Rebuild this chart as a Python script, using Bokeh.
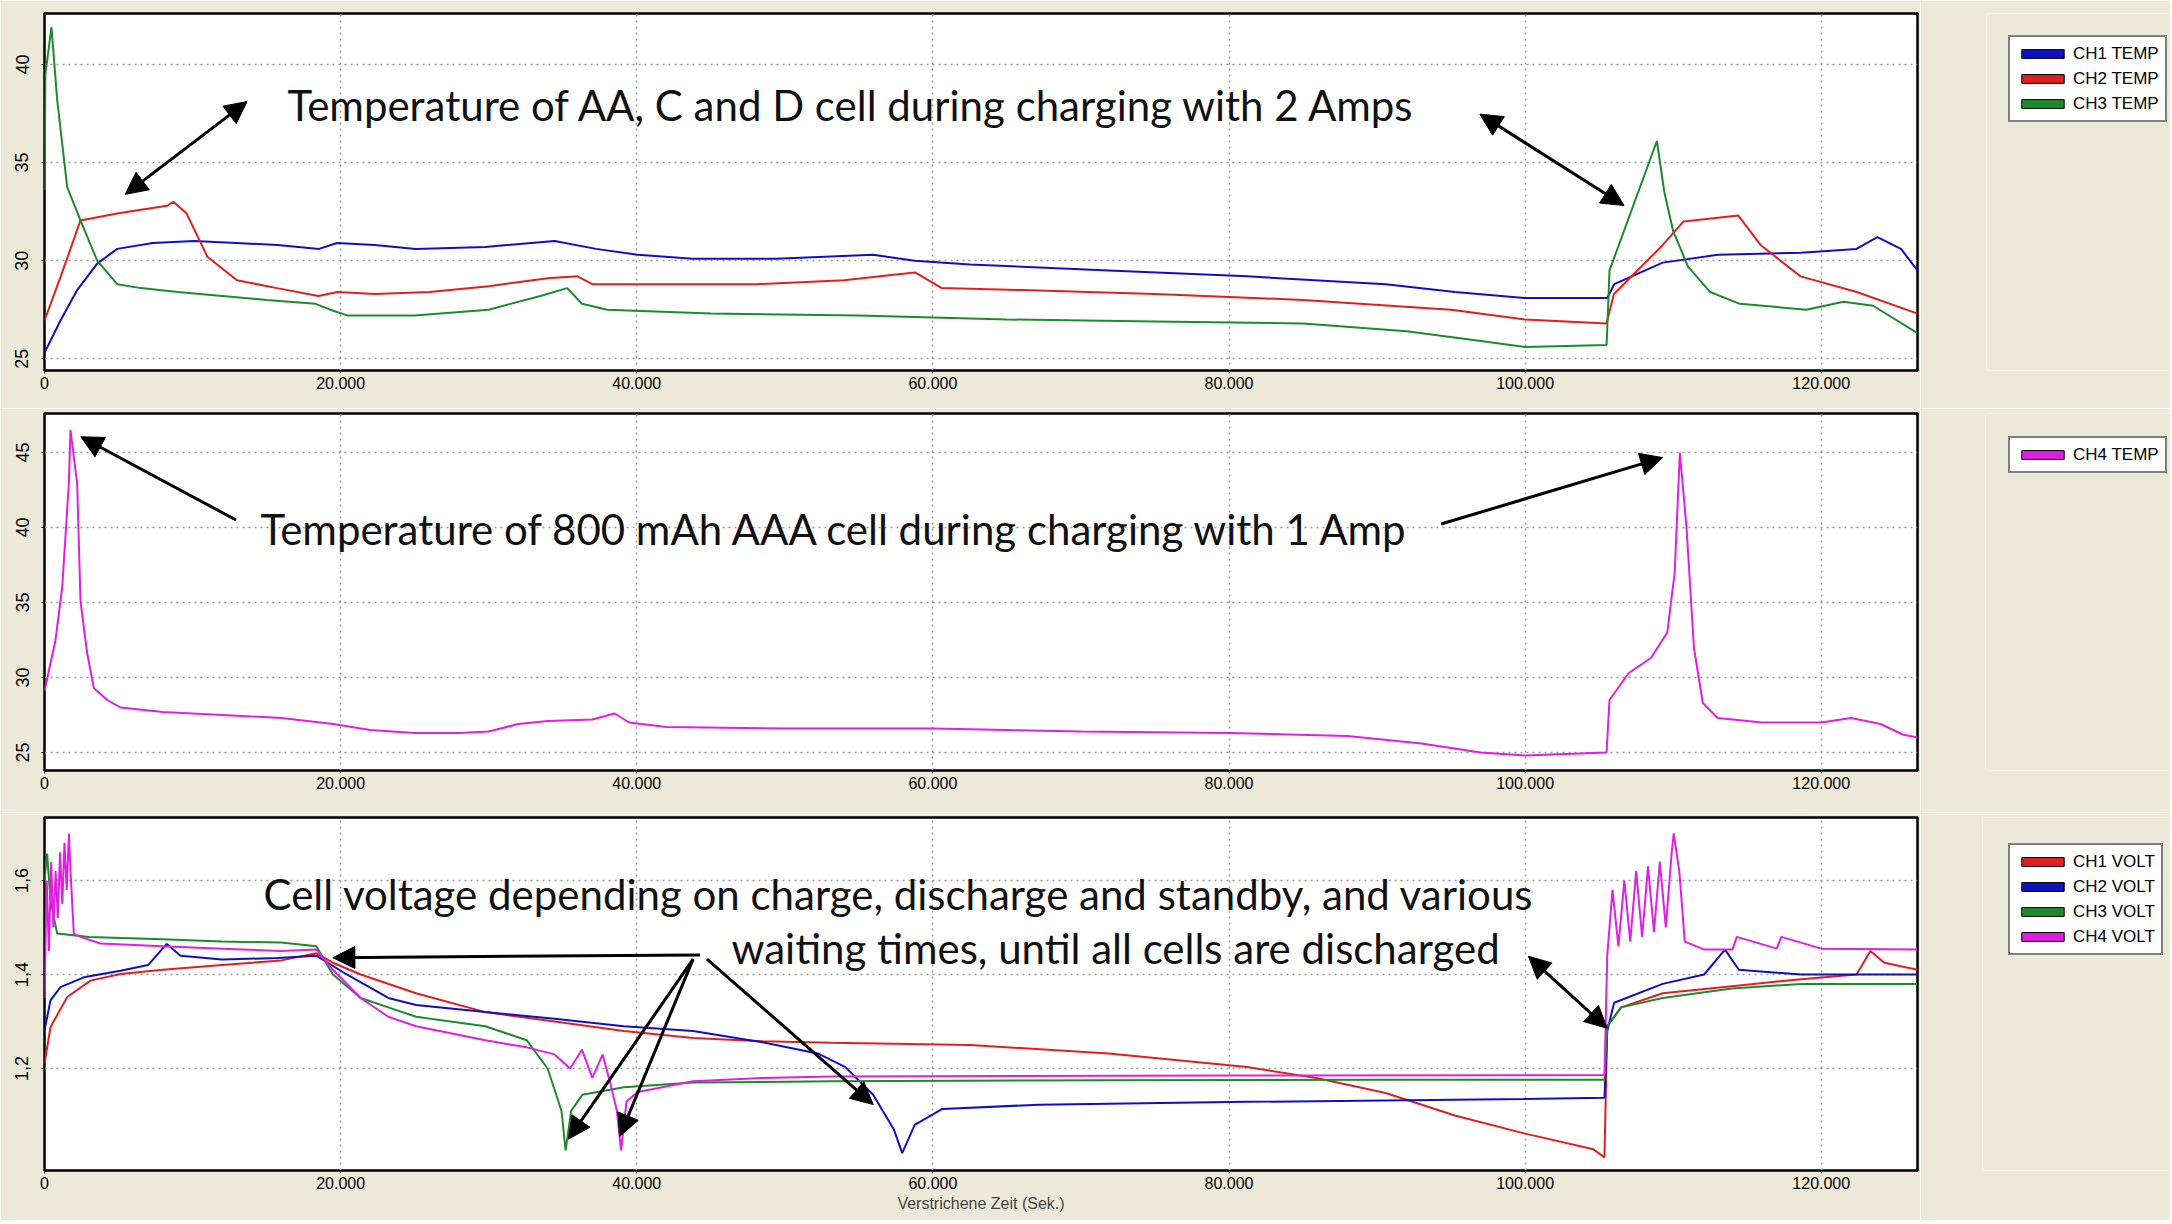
from bokeh.plotting import figure
from bokeh.layouts import column, row
from bokeh.models import Legend, LegendItem, Arrow, NormalHead, Label, FixedTicker, Range1d
from bokeh.embed import file_html
from bokeh.resources import INLINE

# ---------------- data ----------------
X_MAX = 126500
X_TICKS = [0, 20000, 40000, 60000, 80000, 100000, 120000]
X_LABELS = ["0", "20.000", "40.000", "60.000", "80.000", "100.000", "120.000"]

T1_TICKS = [25, 30, 35, 40]
T1_LABELS = ["25", "30", "35", "40"]
T2_TICKS = [25, 30, 35, 40, 45]
T2_LABELS = ["25", "30", "35", "40", "45"]
V_TICKS = [1.2, 1.4, 1.6]
V_LABELS = ["1,2", "1,4", "1,6"]

ch1_temp_x = [0, 1080, 2206, 3559, 4909, 7320, 10120, 12930, 15740, 18540, 19760, 22290, 25090, 29770, 34450,
              37250, 40060, 43800, 49410, 55960, 58770, 62510, 71870, 81220, 90580, 95260, 99940, 105550, 106020,
              109290, 113030, 118640, 122380, 123790, 125380, 126500]
ch1_temp_y = [25.3, 26.95, 28.5, 29.85, 30.6, 30.9, 31.0, 30.9, 30.8, 30.6, 30.9, 30.8, 30.6, 30.7, 31.0,
              30.6, 30.3, 30.1, 30.1, 30.3, 30.0, 29.8, 29.5, 29.2, 28.8, 28.4, 28.1, 28.1, 28.8,
              29.9, 30.3, 30.4, 30.6, 31.2, 30.6, 29.5]

ch2_temp_x = [0, 1080, 2431, 4909, 6500, 8300, 8700, 9600, 11000, 13000, 15700, 18500, 19800, 22300, 26000,
              30000, 34000, 36000, 37000, 40000, 48000, 54000, 57500, 58800, 60600, 66000, 75000, 85000, 95000,
              100000, 105500, 106000, 109300, 110700, 114400, 115900, 118600, 122400, 126500]
ch2_temp_y = [26.95, 29.16, 32.05, 32.4, 32.6, 32.8, 33.0, 32.4, 30.2, 29.0, 28.6, 28.2, 28.4, 28.3, 28.4,
              28.7, 29.1, 29.2, 28.8, 28.8, 28.8, 29.0, 29.3, 29.4, 28.6, 28.5, 28.3, 28.0, 27.5,
              27.0, 26.8, 28.3, 30.8, 32.0, 32.3, 30.8, 29.2, 28.4, 27.3]

ch3_temp_x = [0, 60, 473, 857, 1533, 2431, 3559, 4909, 6500, 9000, 12000, 15000, 18300, 19300, 20500,
              25000, 30000, 33500, 35300, 36300, 38000, 45000, 55000, 65000, 75000, 85000, 92000, 97000, 100000,
              105500, 105700, 108900, 109400, 110000, 111000, 112500, 114500, 119000, 121500, 123500, 126500]
ch3_temp_y = [33.6, 39.5, 41.9, 38.2, 33.75, 32.05, 30.0, 28.8, 28.6, 28.4, 28.2, 28.0, 27.8, 27.5, 27.2,
              27.2, 27.5, 28.2, 28.6, 27.8, 27.5, 27.3, 27.2, 27.0, 26.9, 26.8, 26.4, 25.9, 25.6,
              25.7, 29.5, 36.1, 33.5, 31.5, 29.7, 28.4, 27.8, 27.5, 27.9, 27.7, 26.3]

ch4_temp_x = [0, 743, 1195, 1641, 1756, 2208, 2431, 2884, 3330, 4235, 5133, 8000, 12000, 16000, 19500,
              22000, 25000, 28000, 30000, 32000, 34000, 37000, 38500, 39500, 42000, 50000, 60000, 70000, 80000,
              88000, 93000, 97000, 100000, 105500, 105700, 107000, 108500, 109600, 110100, 110450, 110900,
              111400, 112000, 113000, 116000, 120000, 122000, 124000, 125500, 126500]
ch4_temp_y = [29.1, 32.5, 36.0, 42.9, 46.5, 42.9, 35.1, 31.6, 29.3, 28.5, 28.0, 27.7, 27.5, 27.3, 26.9,
              26.5, 26.3, 26.3, 26.4, 26.9, 27.1, 27.2, 27.6, 27.0, 26.7, 26.6, 26.6, 26.4, 26.3,
              26.1, 25.6, 25.0, 24.8, 25.0, 28.5, 30.3, 31.3, 33.0, 37.0, 45.0, 40.0,
              32.0, 28.3, 27.3, 27.0, 27.0, 27.3, 26.9, 26.2, 26.0]

ch1_volt_x = [0, 405, 1533, 3107, 5133, 8000, 12000, 16000, 18357, 19480, 21351, 25093, 29770, 34448, 39126,
              43803, 48480, 53158, 62513, 71868, 81223, 85900, 90578, 95255, 99933, 104611, 105359, 105546,
              106484, 109288, 113966, 118643, 122385, 123320, 124256, 126500]
ch1_volt_y = [1.210, 1.288, 1.352, 1.387, 1.401, 1.41, 1.42, 1.43, 1.445, 1.425, 1.40, 1.36, 1.32, 1.30, 1.28,
              1.265, 1.258, 1.255, 1.25, 1.232, 1.203, 1.18, 1.148, 1.10, 1.062, 1.028, 1.011, 1.29,
              1.33, 1.36, 1.375, 1.39, 1.40, 1.45, 1.425, 1.41]

ch2_volt_x = [0, 405, 1080, 2655, 5133, 7000, 8254, 9190, 12000, 15738, 18357, 20416, 23222, 25093, 29770,
              34448, 39126, 43803, 48480, 52222, 54094, 55965, 57368, 57929, 58771, 60642, 67190, 81223, 99933,
              105359, 105546, 106014, 109288, 112093, 113496, 114434, 118643, 126500]
ch2_volt_y = [1.281, 1.345, 1.373, 1.394, 1.408, 1.42, 1.465, 1.44, 1.432, 1.435, 1.44, 1.40, 1.35, 1.335, 1.32,
              1.306, 1.29, 1.28, 1.256, 1.232, 1.203, 1.144, 1.07, 1.02, 1.08, 1.114, 1.123, 1.129, 1.135,
              1.138, 1.28, 1.34, 1.38, 1.40, 1.453, 1.41, 1.40, 1.40]

ch3_volt_x = [0, 180, 405, 857, 3000, 8000, 12000, 16000, 18357, 19480, 21351, 23222, 25093, 29770, 32577,
              33980, 34916, 35196, 35570, 36319, 39126, 43803, 53158, 71868, 90578, 105359, 105546, 106484,
              109288, 113966, 118643, 126500]
ch3_volt_y = [1.60, 1.657, 1.557, 1.487, 1.48, 1.475, 1.47, 1.468, 1.46, 1.40, 1.35, 1.33, 1.31, 1.29, 1.26,
              1.20, 1.11, 1.026, 1.11, 1.144, 1.16, 1.17, 1.173, 1.175, 1.176, 1.176, 1.29, 1.33,
              1.35, 1.37, 1.38, 1.38]

ch4_volt_x = [0, 150, 300, 450, 600, 750, 900, 1050, 1200, 1350, 1500, 1650, 1756, 1870, 1981,
              2431, 3782, 8000, 12000, 16000, 18357, 19480, 21351, 23222, 25093, 29770, 32577, 34448, 35500,
              36300, 37000, 37700, 38200, 38658, 38938, 39313, 40061, 43803, 48480, 53158, 80000, 105359,
              105546, 105900, 106300, 106700, 107100, 107500, 107900, 108300, 108700, 109100, 109500, 109900,
              110036, 110410, 110784, 112093, 114000, 114300, 117000, 117300, 120000, 126500]
ch4_volt_y = [1.35, 1.60, 1.45, 1.64, 1.50, 1.62, 1.52, 1.66, 1.55, 1.68, 1.58, 1.70, 1.62, 1.551, 1.487,
              1.48, 1.466, 1.46, 1.455, 1.45, 1.453, 1.41, 1.35, 1.31, 1.29, 1.26, 1.245, 1.23, 1.20,
              1.24, 1.18, 1.23, 1.17, 1.11, 1.026, 1.13, 1.15, 1.173, 1.18, 1.183, 1.185, 1.186,
              1.44, 1.58, 1.46, 1.60, 1.47, 1.62, 1.48, 1.63, 1.49, 1.64, 1.50, 1.66,
              1.70, 1.62, 1.47, 1.453, 1.453, 1.48, 1.455, 1.48, 1.455, 1.453]

# ---------------- style ----------------
BG = "#ECE9D8"
BLUE = "#1010C0"
RED = "#E02020"
GREEN = "#1E8A2E"
MAGENTA = "#E020E0"
TXT_FONT = "Lato"
TXT_SIZE = "42px"
TICK_FONT = "Liberation Sans"
FRAME_W = 1873
LEG_W = 250
LEG_X = 88  # legend box left edge, counted from the legend strip's left side


def make_fig(y_rng, frame_h, top, bottom, y_ticks, y_labels):
    p = figure(frame_width=FRAME_W, frame_height=frame_h,
               x_range=Range1d(0, X_MAX), y_range=Range1d(*y_rng),
               output_backend="svg", toolbar_location=None,
               min_border_left=44, min_border_right=3,
               min_border_top=top, min_border_bottom=bottom,
               background_fill_color="white", border_fill_color=BG,
               outline_line_color="black", outline_line_width=2.5)
    p.xaxis.ticker = FixedTicker(ticks=X_TICKS)
    p.xaxis.major_label_overrides = dict(zip(X_TICKS, X_LABELS))
    p.yaxis.ticker = FixedTicker(ticks=y_ticks)
    p.yaxis.major_label_overrides = dict(zip(y_ticks, y_labels))
    p.yaxis.major_label_orientation = "vertical"
    for ax in (p.xaxis, p.yaxis):
        ax.axis_line_color = None
        ax.minor_tick_line_color = None
        ax.major_tick_line_color = "black"
        ax.major_tick_out = 3
        ax.major_tick_in = 0
        ax.major_label_text_font = TICK_FONT
        ax.major_label_text_color = "black"
    p.xaxis.major_label_text_font_size = "16px"
    p.yaxis.major_label_text_font_size = "18px"
    p.xaxis.major_label_standoff = 3
    p.yaxis.major_label_standoff = 13
    p.grid.grid_line_color = "#9a9a9a"
    p.grid.grid_line_dash = "2 4"
    p.grid.grid_line_width = 1.5
    return p


def legend_fig(frame_h, top, bottom, offset, names, colors):
    q = figure(frame_width=LEG_W - (LEG_X - offset), frame_height=frame_h,
               x_range=Range1d(0, 1), y_range=Range1d(0, 1),
               output_backend="svg", toolbar_location=None, x_axis_type=None, y_axis_type=None,
               min_border_left=LEG_X - offset, min_border_right=0, min_border_top=top, min_border_bottom=bottom,
               background_fill_color=BG, border_fill_color=BG, outline_line_color=None)
    items = []
    for n, c in zip(names, colors):
        # swatch renderer: its single box lies outside the visible range, only the legend shows it
        r = q.quad(left=[-3], right=[-2], top=[-2], bottom=[-3], fill_color=c, line_color="black", line_width=1)
        items.append(LegendItem(label=n, renderers=[r]))
    lg = Legend(items=items, location="top_left", label_text_font=TICK_FONT, label_text_font_size="17px",
                label_text_color="black",
                glyph_width=53, glyph_height=11, label_standoff=4, spacing=4, padding=6, margin=offset,
                label_height=21, border_line_color="black", border_line_width=2,
                background_fill_color="white", background_fill_alpha=1.0)
    q.add_layout(lg)
    return q


def arrow(p, x0, y0, x1, y1, both=False):
    head = NormalHead(size=22, fill_color="black", line_color="black")
    start = NormalHead(size=22, fill_color="black", line_color="black") if both else None
    p.add_layout(Arrow(start=start, end=head, x_start=x0, y_start=y0, x_end=x1, y_end=y1,
                       line_color="black", line_width=3))


def text(p, x, y, s):
    p.add_layout(Label(x=x, y=y, text=s, text_font=TXT_FONT, text_font_size=TXT_SIZE,
                       text_baseline="middle", text_align="left", text_color="#111111"))


# ---------------- panel 1 ----------------
p1 = make_fig((24.4, 42.6), 357, 13, 38, T1_TICKS, T1_LABELS)
p1.line(ch1_temp_x, ch1_temp_y, line_color=BLUE, line_width=2)
p1.line(ch2_temp_x, ch2_temp_y, line_color=RED, line_width=2)
p1.line(ch3_temp_x, ch3_temp_y, line_color=GREEN, line_width=2)
text(p1, 16412, 37.96, "Temperature of AA, C and D cell during charging with 2 Amps")
arrow(p1, 13683, 38.11, 5450, 33.38, both=True)
arrow(p1, 96943, 37.47, 106680, 32.81, both=True)
l1 = legend_fig(357, 13, 38, 22, ["CH1 TEMP", "CH2 TEMP", "CH3 TEMP"], [BLUE, RED, GREEN])

# ---------------- panel 2 ----------------
p2 = make_fig((23.8, 47.6), 357, 5, 42, T2_TICKS, T2_LABELS)
p2.line(ch4_temp_x, ch4_temp_y, line_color=MAGENTA, line_width=2)
text(p2, 14588, 39.93, "Temperature of 800 mAh AAA cell during charging  with 1 Amp")
arrow(p2, 12934, 40.5, 2452, 46.05)
arrow(p2, 94325, 40.23, 109290, 44.66)
l2 = legend_fig(357, 5, 42, 23, ["CH4 TEMP"], [MAGENTA])

# ---------------- panel 3 ----------------
p3 = make_fig((0.983, 1.734), 353, 5, 50, V_TICKS, V_LABELS)
p3.line(ch1_volt_x, ch1_volt_y, line_color=RED, line_width=2)
p3.line(ch2_volt_x, ch2_volt_y, line_color=BLUE, line_width=2)
p3.line(ch3_volt_x, ch3_volt_y, line_color=GREEN, line_width=2)
p3.line(ch4_volt_x, ch4_volt_y, line_color=MAGENTA, line_width=2)
p3.xaxis.axis_label = "Verstrichene Zeit (Sek.)"
p3.xaxis.axis_label_text_font = TICK_FONT
p3.xaxis.axis_label_text_font_size = "16px"
p3.xaxis.axis_label_text_font_style = "normal"
p3.xaxis.axis_label_standoff = 3
text(p3, 14791, 1.5723, "Cell voltage depending on charge, discharge and standby, and various")
text(p3, 46398, 1.4574, "waiting times, until all cells are discharged")
arrow(p3, 44272, 1.4417, 19478, 1.4357)
arrow(p3, 43806, 1.4327, 35385, 1.0498)
arrow(p3, 43806, 1.4327, 38848, 1.0555)
arrow(p3, 44744, 1.4327, 55970, 1.1234)
arrow(p3, 100222, 1.4387, 105550, 1.2855, both=True)
l3 = legend_fig(353, 5, 50, 26, ["CH1 VOLT", "CH2 VOLT", "CH3 VOLT", "CH4 VOLT"], [RED, BLUE, GREEN, MAGENTA])

layout = column(row(p1, l1), row(p2, l2), row(p3, l3))
open("out.html", "w").write(file_html(layout, INLINE))
